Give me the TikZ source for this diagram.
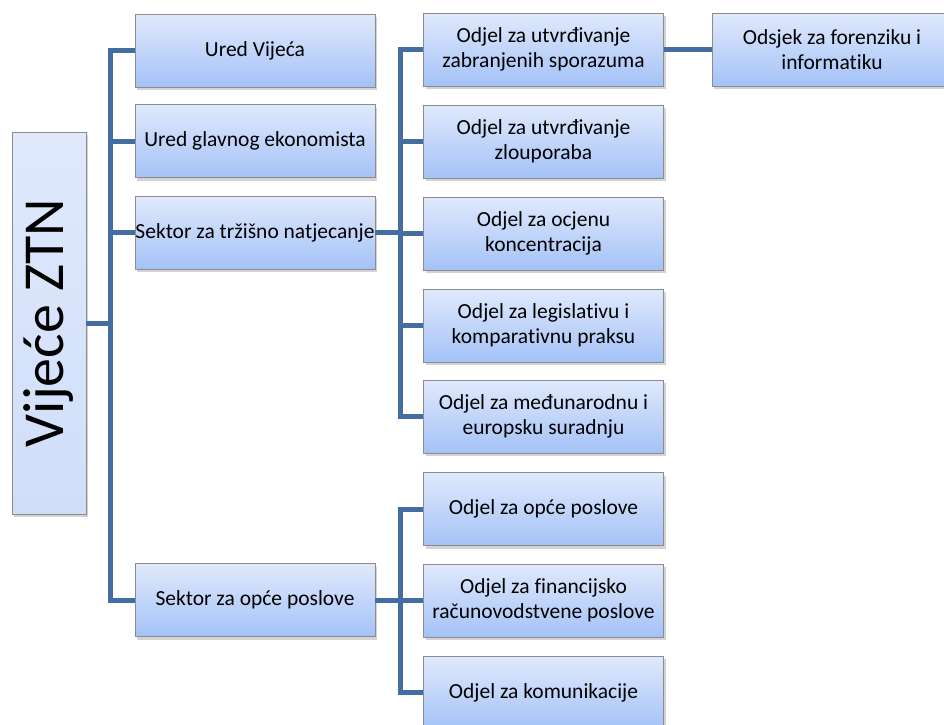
\documentclass[tikz,border=0pt]{standalone}
\usepackage{fontspec}
\setmainfont{Carlito}[Ligatures={NoCommon}]
\usetikzlibrary{shadows}
\definecolor{boxtop}{RGB}{224,233,252}
\definecolor{boxbot}{RGB}{164,194,247}
\definecolor{roottop}{RGB}{224,233,252}
\definecolor{rootbot}{RGB}{208,222,250}
\definecolor{boxline}{RGB}{140,140,140}
\definecolor{connc}{RGB}{68,110,162}
\tikzset{
  orgbox/.style={rectangle, draw=boxline, line width=0.8pt, top color=boxtop, bottom color=boxbot,
    minimum width=240pt, minimum height=73pt, inner sep=0pt, align=center,
    font=\fontsize{21.5}{25}\selectfont,
    drop shadow={shadow xshift=2pt, shadow yshift=-3pt, opacity=0.35}},
  rootbox/.style={rectangle, draw=boxline, line width=0.8pt, top color=roottop, bottom color=rootbot,
    minimum width=74pt, minimum height=382pt, inner sep=0pt,
    drop shadow={shadow xshift=2pt, shadow yshift=-3pt, opacity=0.35}},
  roottext/.style={rotate=90, font=\fontsize{58}{62}\selectfont, inner sep=0pt},
  conn/.style={draw=connc, line width=5pt, line join=miter}
}
\begin{document}
\begin{tikzpicture}[x=1pt,y=-1pt]
\useasboundingbox (0,0) rectangle (944,724);
\clip (0,0) rectangle (944,724);
% root
\node[rootbox] (root) at (49,323) {};
\node[roottext] (roott) at (root.center) {Vijeće ZTN};
% level 1
\node[orgbox] (u1) at (255,50.5) {Ured Vijeća};
\node[orgbox] (u2) at (255,141) {Ured glavnog ekonomista};
\node[orgbox] (s1) at (255,232.5) {Sektor za tržišno natjecanje};
\node[orgbox] (s2) at (255,600) {Sektor za opće poslove};
% level 2
\node[orgbox] (d1) at (543.5,49.5) {Odjel za utvrđivanje\\zabranjenih sporazuma};
\node[orgbox] (d2) at (543.5,141.5) {Odjel za utvrđivanje\\zlouporaba};
\node[orgbox] (d3) at (543.5,233.5) {Odjel za ocjenu\\koncentracija};
\node[orgbox] (d4) at (543.5,325.5) {Odjel za legislativu i\\komparativnu praksu};
\node[orgbox] (d5) at (543.5,416.5) {Odjel za međunarodnu i\\europsku suradnju};
\node[orgbox] (d6) at (543.5,509) {Odjel za opće poslove};
\node[orgbox] (d7) at (543.5,600.5) {Odjel za financijsko\\računovodstvene poslove};
\node[orgbox] (d8) at (543.5,692.5) {Odjel za komunikacije};
% level 3
\node[orgbox] (o1) at (832,49.5) {Odsjek za forenziku i\\informatiku};
% buses
\coordinate (bus1) at (110,323);
\coordinate (bus2) at (400,232.5);
\coordinate (bus3) at (400,600);
% connectors
\draw[conn] (root.east) -- (bus1);
\draw[conn] (u1.west) -| (bus1) |- (s2.west);
\draw[conn] (u2.west) -- (u2.west -| bus1);
\draw[conn] (s1.west) -- (s1.west -| bus1);
\draw[conn] (s1.east) -- (bus2);
\draw[conn] (d1.west) -| (bus2) |- (d5.west);
\draw[conn] (d2.west) -- (d2.west -| bus2);
\draw[conn] (d3.west) -- (d3.west -| bus2);
\draw[conn] (d4.west) -- (d4.west -| bus2);
\draw[conn] (s2.east) -- (bus3);
\draw[conn] (d6.west) -| (bus3) |- (d8.west);
\draw[conn] (d7.west) -- (d7.west -| bus3);
\draw[conn] (d1.east) -- (o1.west);
\end{tikzpicture}
\end{document}
